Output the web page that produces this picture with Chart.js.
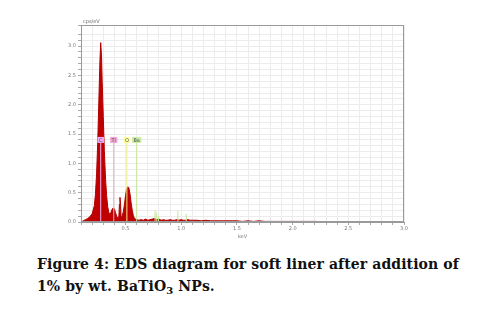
<!DOCTYPE html>
<html><head><meta charset="utf-8">
<script src="https://cdn.jsdelivr.net/npm/chart.js@4"></script>
<style>
html,body{margin:0;padding:0;background:#fff;width:488px;height:311px;overflow:hidden}
#wrap{position:absolute;left:0;top:0;width:488px;height:240px}
#cap{position:absolute;left:37px;top:253px;font-family:"DejaVu Serif",serif;font-weight:bold;font-size:14px;line-height:22px;color:#111;white-space:nowrap;letter-spacing:0.1px}
</style></head><body>
<div id="wrap"><canvas id="c" width="488" height="240"></canvas></div>
<div id="cap">Figure 4: EDS diagram for soft liner after addition of<br>1% by wt. BaTiO<sub style="font-size:10px;vertical-align:-3px">3</sub> NPs.</div>
<script>
// Spectrum: energy (keV) and intensity (cps/eV)
const energy = [0.10,0.12,0.14,0.16,0.18,0.20,0.22,0.23,0.24,0.25,0.26,0.27,0.277,0.285,0.29,0.30,0.31,0.32,0.33,0.34,0.35,0.36,0.37,0.38,0.39,0.40,0.41,0.42,0.43,0.44,0.445,0.45,0.455,0.46,0.47,0.48,0.49,0.50,0.51,0.52,0.53,0.54,0.55,0.56,0.57,0.58,0.60,
0.62,0.64,0.66,0.68,0.70,0.72,0.74,0.76,0.78,0.80,0.82,0.84,0.86,0.88,0.90,0.92,0.94,0.96,0.98,1.00,1.02,1.04,1.06,1.08,1.10,1.14,1.18,1.22,1.26,1.30,1.34,1.38,1.42,1.46,1.50,1.55,1.60,1.65,1.70,1.75,1.80,1.90,2.00,2.20,2.40,2.60,2.80,3.00];
const cps = [0.00,0.02,0.04,0.06,0.09,0.14,0.28,0.48,0.82,1.35,2.05,2.75,3.06,2.80,2.40,1.80,1.20,0.75,0.45,0.26,0.16,0.13,0.17,0.22,0.24,0.22,0.16,0.10,0.06,0.10,0.30,0.42,0.30,0.08,0.10,0.18,0.30,0.45,0.56,0.60,0.58,0.48,0.33,0.20,0.11,0.06,0.04,
0.03,0.04,0.03,0.05,0.03,0.04,0.05,0.06,0.04,0.05,0.03,0.04,0.03,0.03,0.04,0.03,0.03,0.04,0.03,0.04,0.03,0.03,0.04,0.03,0.03,0.03,0.02,0.03,0.02,0.02,0.02,0.02,0.02,0.02,0.02,0.01,0.02,0.01,0.02,0.01,0.01,0.01,0.01,0.01,0.00,0.00,0.00,0.00];
// Element marker lines
const markerNames = ['C','Ti','O','Ba'];
const markerE = [0.277,0.394,0.512,0.600];
const markerTop = 1.40;
const markerLine = ['#f0b4f0','#e8a8cc','#f0f080','#c4e890'];
const markerFill = ['#f4a8f4','#f0a8d0','#ffffa0','#cdeea8'];
// Extra small Ba lines (unlabelled)
const extraE = [0.765,0.78,0.795,0.97,1.045];
const extraH = [0.20,0.16,0.10,0.19,0.14];
// Axis ticks
const xMin = 0.1, xMax = 3.0, yMin = 0, yMax = 3.36;

const datasets = [{
  type:'line',
  data: energy.map((e,i)=>({x:e,y:cps[i]})),
  borderColor:'#b00000', backgroundColor:'#c00000', fill:'origin',
  borderWidth:1, pointRadius:0, tension:0, order:1
}];
markerE.forEach((e,i)=>datasets.push({type:'line',data:[{x:e,y:0},{x:e,y:markerTop}],borderColor:markerLine[i],borderWidth:1,pointRadius:0,fill:false,order:0}));
extraE.forEach((e,i)=>datasets.push({type:'line',data:[{x:e,y:0},{x:e,y:extraH[i]}],borderColor:'#c4e890',borderWidth:1,pointRadius:0,fill:false,order:0}));

const labelPlugin = {
  id:'lbl',
  afterDatasetsDraw(chart){
    const {ctx, scales:{x,y}, chartArea:ca} = chart;
    ctx.save();
    ctx.font = '5px "DejaVu Sans"';
    ctx.textAlign='center'; ctx.textBaseline='middle';
    markerNames.forEach((n,i)=>{
      const px = x.getPixelForValue(markerE[i]), py = y.getPixelForValue(markerTop);
      const w = Math.max(6, ctx.measureText(n).width+3);
      ctx.fillStyle = markerFill[i];
      ctx.fillRect(px-w/2, py-3, w, 6);
      ctx.fillStyle = '#555';
      ctx.fillText(n, px, py+0.3);
    });
    ctx.fillStyle='#666'; ctx.textAlign='left'; ctx.textBaseline='bottom';
    ctx.fillText('cps/eV', ca.left+2, ca.top-1);
    ctx.strokeStyle='#9a9a9a'; ctx.lineWidth=1;
    ctx.strokeRect(ca.left+0.5, ca.top+0.5, ca.right-ca.left-1, ca.bottom-ca.top-1);
    ctx.restore();
  }
};

const isMajor = v => Math.abs(v*2 - Math.round(v*2)) < 1e-6;
new Chart(document.getElementById('c'), {
  type:'line',
  data:{datasets},
  options:{
    responsive:false, animation:false,
    layout:{padding:{left:67,right:84,top:25,bottom:0}},
    plugins:{legend:{display:false},tooltip:{enabled:false}},
    scales:{
      x:{type:'linear',min:xMin,max:xMax,
        ticks:{stepSize:0.1,autoSkip:false,maxRotation:0,font:{size:5,family:'DejaVu Sans'},color:'#777',padding:1,
          callback:v=>isMajor(v)?v.toFixed(1):''},
        grid:{color:'#ececec',tickLength:3,tickColor:'#aaa'},border:{color:'#9a9a9a'},
        title:{display:true,text:'keV',font:{size:5,family:'DejaVu Sans'},color:'#777',padding:0},
        afterFit(s){s.height=18;}
      },
      y:{type:'linear',min:yMin,max:yMax,
        ticks:{stepSize:0.1,autoSkip:false,font:{size:5,family:'DejaVu Sans'},color:'#777',padding:2,
          callback:v=>isMajor(v)?v.toFixed(1):''},
        grid:{color:'#ececec',tickLength:3,tickColor:'#aaa'},border:{color:'#9a9a9a'},
        afterFit(s){s.width=14;}
      }
    }
  },
  plugins:[labelPlugin]
});
</script>
</body></html>
